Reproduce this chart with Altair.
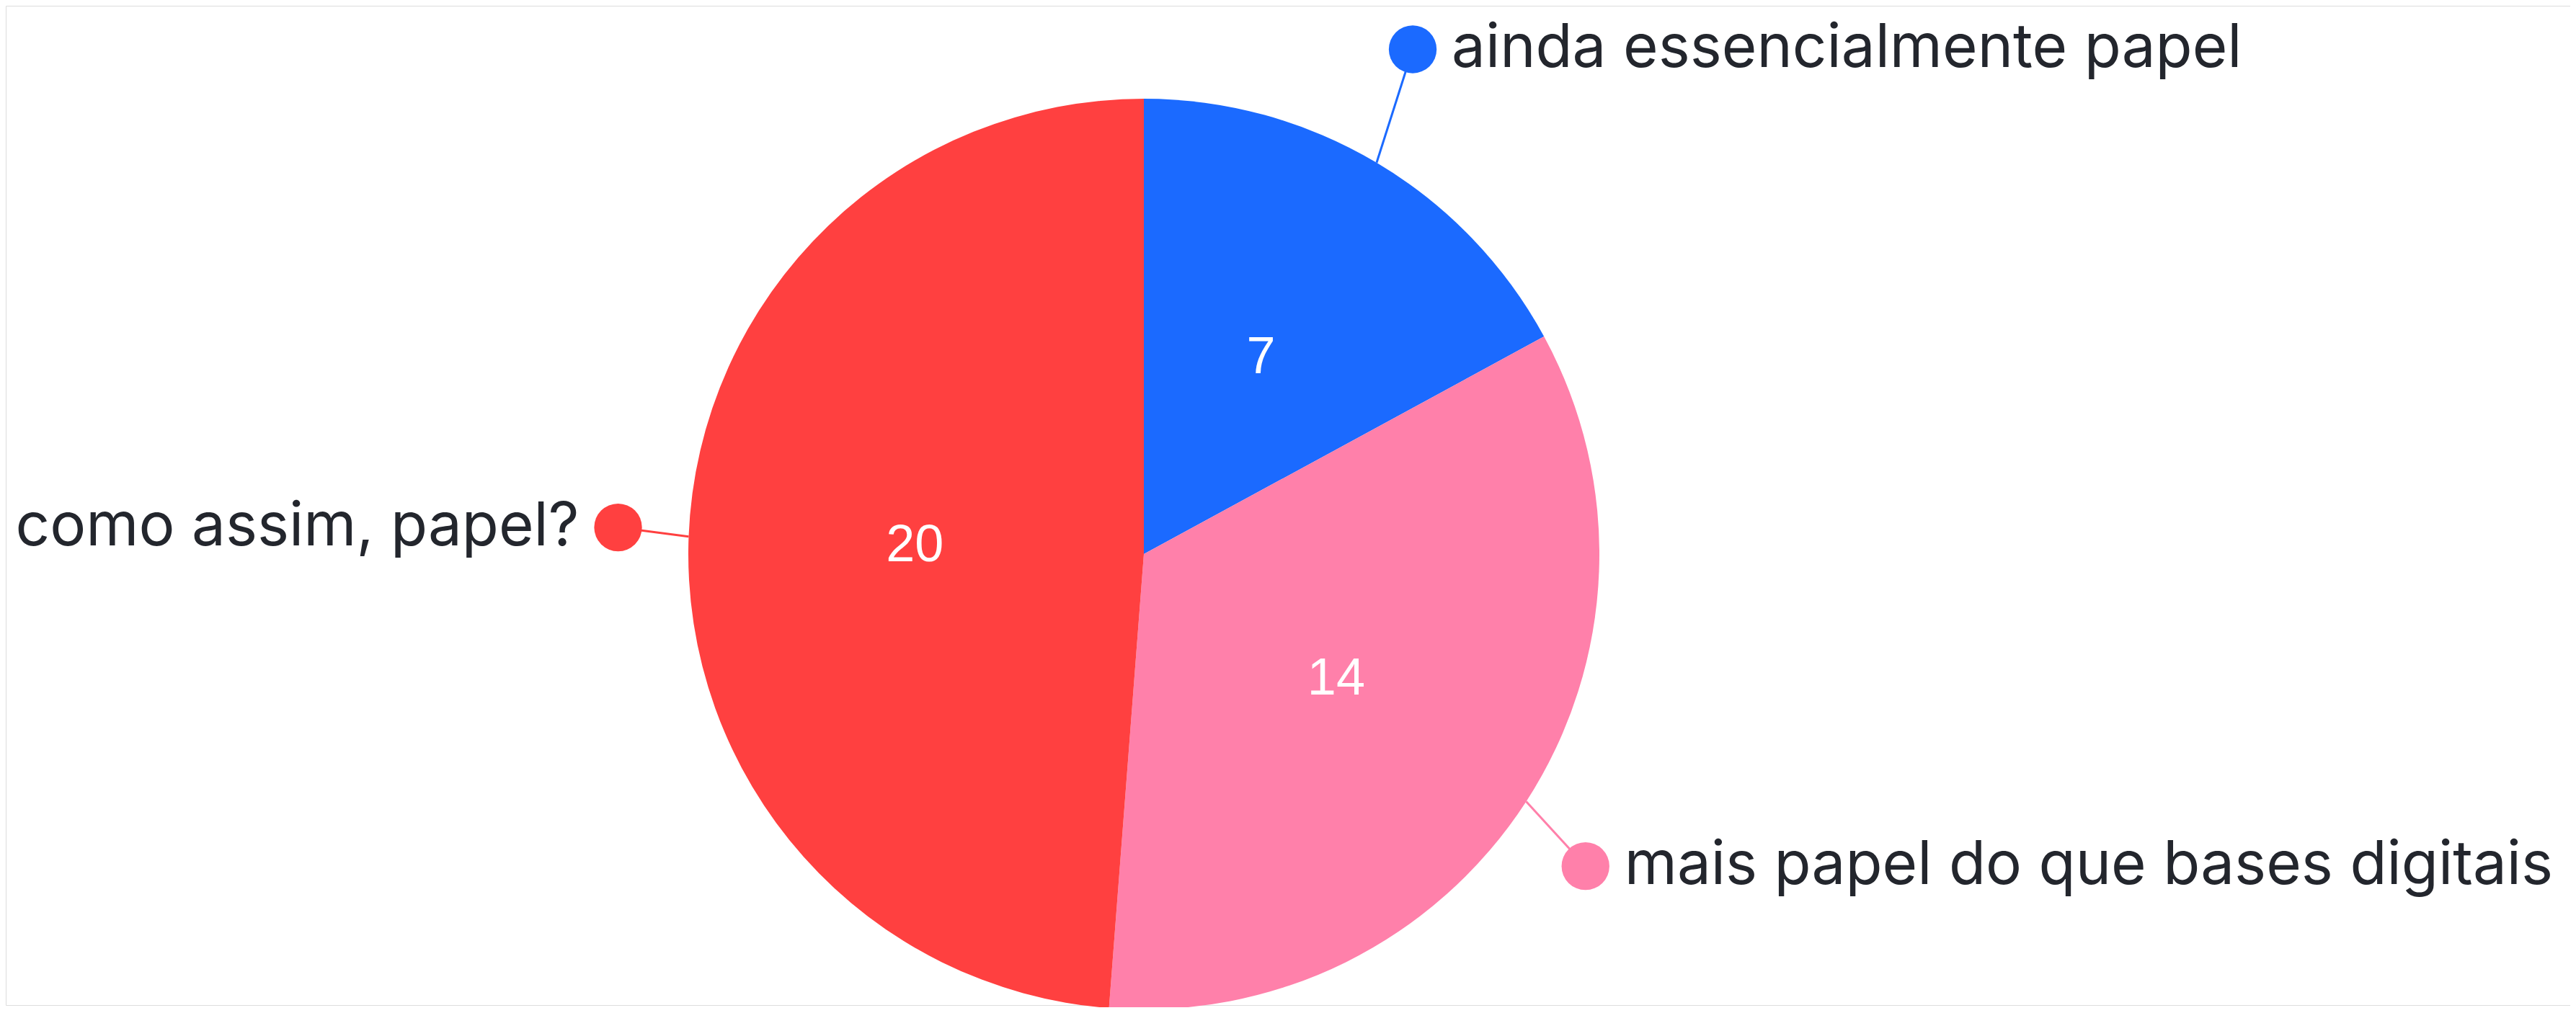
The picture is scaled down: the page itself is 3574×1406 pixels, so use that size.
import altair as alt
import pandas as pd

# ---- data ----
labels = ["ainda essencialmente papel", "mais papel do que bases digitais", "como assim, papel?"]
values = [7, 14, 20]
colors = ["#1B6AFF", "#FF80AA", "#FF4040"]
order = [0, 1, 2]

df = pd.DataFrame({"label": labels, "value": values, "order": order})

# ---- layout constants (pixels, chart coordinates) ----
W, H = 3558, 1390
CX, CY = 1579, 761      # pie centre
R = 632                 # pie radius
RN = 318                # radius of the value labels
RDX, RDY = 730, 808     # elliptical path of the label dots
DY0 = -6                # vertical shift of the label path
GAP = 54                # dot centre -> label text
TEXT_COLOR = "#23262D"

base = alt.Chart(df).transform_window(
    cum_end="sum(value)", sort=[alt.SortField("order")]
).transform_joinaggregate(
    total="sum(value)"
).transform_calculate(
    start="(datum.cum_end - datum.value) / datum.total",
    end="datum.cum_end / datum.total",
).transform_calculate(
    ang="PI * (datum.start + datum.end)",
).transform_calculate(
    side="sin(datum.ang) >= 0 ? 'right' : 'left'",
    nx=f"{CX} + {RN} * sin(datum.ang)",
    ny=f"{CY} - {RN} * cos(datum.ang)",
    rx=f"{CX} + {R} * sin(datum.ang)",
    ry=f"{CY} - {R} * cos(datum.ang)",
    px=f"{CX} + {RDX} * sin(datum.ang)",
    py=f"{CY + DY0} - {RDY} * cos(datum.ang)",
)

xs = alt.Scale(domain=[0, W], range=[0, W])
ys = alt.Scale(domain=[0, H], range=[0, H])
col = alt.Color("label:N", scale=alt.Scale(domain=labels, range=colors), legend=None)

leaders = base.mark_rule(strokeWidth=3).encode(
    x=alt.X("rx:Q", scale=xs, axis=None),
    y=alt.Y("ry:Q", scale=ys, axis=None),
    x2="px:Q",
    y2="py:Q",
    color=col,
)

pie = base.mark_arc(radius=R).encode(
    theta=alt.Theta("start:Q", scale=alt.Scale(domain=[0, 1])),
    theta2="end:Q",
    color=col,
    x=alt.value(CX),
    y=alt.value(CY),
)

dots = base.mark_circle(size=4400, opacity=1).encode(
    x=alt.X("px:Q", scale=xs, axis=None),
    y=alt.Y("py:Q", scale=ys, axis=None),
    color=col,
)

nums = base.mark_text(
    font="Liberation Sans", fontSize=72, color="white", align="center", baseline="middle"
).encode(
    x=alt.X("nx:Q", scale=xs, axis=None),
    y=alt.Y("ny:Q", scale=ys, axis=None),
    text="value:Q",
)

lab_right = base.transform_filter("datum.side == 'right'").mark_text(
    font="Inter", fontSize=83.5, color=TEXT_COLOR, align="left", baseline="middle", dx=GAP
).encode(
    x=alt.X("px:Q", scale=xs, axis=None),
    y=alt.Y("py:Q", scale=ys, axis=None),
    text="label:N",
)

lab_left = base.transform_filter("datum.side == 'left'").mark_text(
    font="Inter", fontSize=83.5, color=TEXT_COLOR, align="right", baseline="middle", dx=-GAP
).encode(
    x=alt.X("px:Q", scale=xs, axis=None),
    y=alt.Y("py:Q", scale=ys, axis=None),
    text="label:N",
)

chart = alt.layer(leaders, pie, dots, nums, lab_right, lab_left).properties(
    width=W, height=H, padding=0,
    autosize=alt.AutoSizeParams(type="fit", contains="padding"),
).configure_view(strokeWidth=0, stroke="transparent").configure(background="white")

chart.save("out.html", embed_options={"renderer": "svg", "actions": False})
